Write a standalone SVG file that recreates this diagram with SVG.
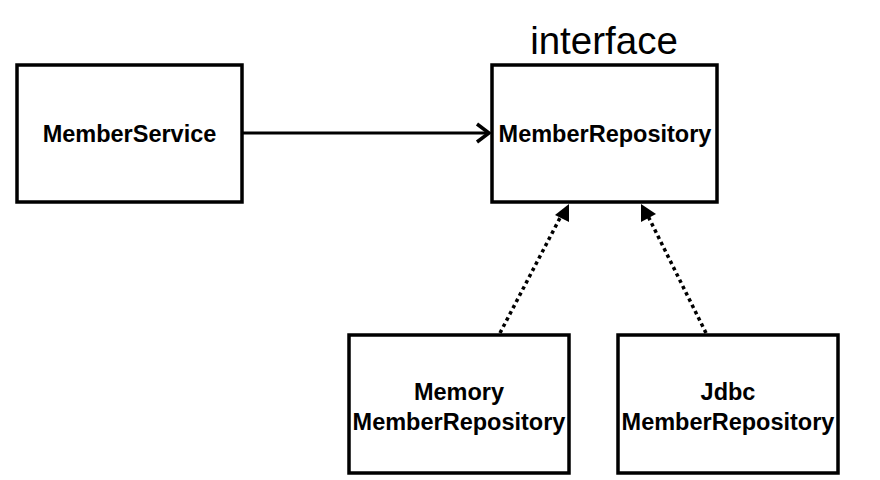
<svg xmlns="http://www.w3.org/2000/svg" width="880" height="480" viewBox="0 0 880 480">
<style>
.box{fill:#fff;stroke:#000;stroke-width:3.5}
.lbl{font-family:"Liberation Sans",Arial,sans-serif;font-weight:bold;font-size:23.5px;fill:#000;text-anchor:middle}
.dot{stroke:#000;stroke-width:3.5;stroke-dasharray:3.5 3.5;fill:none}
</style>
<rect width="880" height="480" fill="#fff"/>
<text x="604" y="54" style="font-family:'Liberation Sans',Arial,sans-serif;font-size:38.5px;fill:#000;text-anchor:middle">interface</text>
<g id="memberService">
<rect class="box" x="17" y="65" width="225" height="137"/>
<text class="lbl" x="129.5" y="142">MemberService</text>
</g>
<g id="memberRepository">
<rect class="box" x="492" y="65" width="225" height="137"/>
<text class="lbl" x="605" y="142">MemberRepository</text>
</g>
<g id="memoryMemberRepository">
<rect class="box" x="349" y="335" width="220" height="138"/>
<text class="lbl" x="459" y="400">Memory</text>
<text class="lbl" x="459" y="430">MemberRepository</text>
</g>
<g id="jdbcMemberRepository">
<rect class="box" x="618" y="335" width="220" height="138"/>
<text class="lbl" x="728" y="400">Jdbc</text>
<text class="lbl" x="728" y="430">MemberRepository</text>
</g>
<g id="connectors">
<line x1="242" y1="133" x2="488" y2="133" stroke="#000" stroke-width="3"/>
<polyline points="477,124 489,133 477,142" fill="none" stroke="#000" stroke-width="3.5"/>
<line class="dot" x1="500" y1="333" x2="561" y2="216"/>
<polygon points="569,204 569,222 555,215" fill="#000"/>
<line class="dot" x1="706" y1="333" x2="648" y2="216"/>
<polygon points="641,204 641,222 656,214" fill="#000"/>
</g>
</svg>
